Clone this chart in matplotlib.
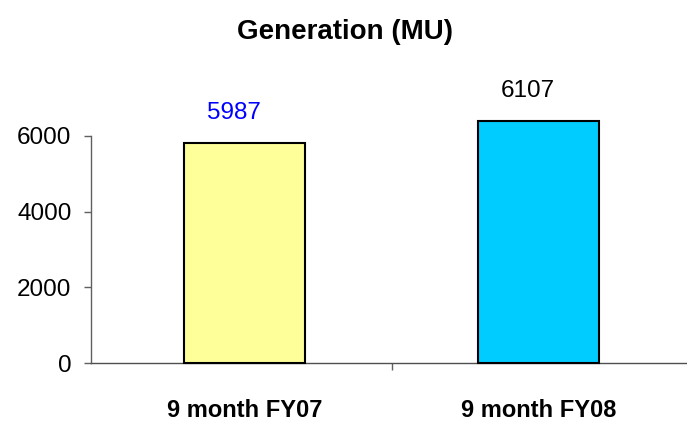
import matplotlib
matplotlib.use("Agg")
import matplotlib.pyplot as plt

plt.rcParams['font.family'] = ['Liberation Sans', 'DejaVu Sans']

categories = ["9 month FY07", "9 month FY08"]
values = [5800, 6380]
value_labels = ["5987", "6107"]
label_colors = ["#0000FF", "#000000"]
bar_colors = ["#FFFF99", "#00CCFF"]
yticks = [0, 2000, 4000, 6000]
title = "Generation (MU)"

fig = plt.figure(figsize=(6.87, 4.21), dpi=100)
ax = fig.add_axes([0.1325, 0.137, 0.8675, 0.5406])

x = list(range(len(categories)))
bars = ax.bar(x, values, width=0.41, color=bar_colors, edgecolor="black",
              linewidth=1.5, zorder=3, clip_on=False)

for xi, v, lab, c in zip(x, values, value_labels, label_colors):
    ax.annotate(lab, (xi, v), xytext=(-7.5, 21.5), textcoords="offset points",
                ha="center", va="center", fontsize=17.5, color=c, annotation_clip=False)

ax.set_xlim(-0.522, 1.505)
ax.set_ylim(0, 6000)
ax.set_yticks(yticks)
ax.set_yticklabels([str(t) for t in yticks], fontsize=17.5)
ax.tick_params(axis="y", direction="out", length=5, width=1, color="#606060", pad=9)

ax.set_xticks(x)
ax.set_xticklabels(categories, fontsize=17, fontweight="bold")
ax.tick_params(axis="x", which="major", length=0, pad=26)
ax.set_xticks([0.5], minor=True)
ax.tick_params(axis="x", which="minor", direction="out", length=5, width=1, color="#606060")

for s in ["top", "right"]:
    ax.spines[s].set_visible(False)
ax.spines["left"].set_color("#606060")
ax.spines["bottom"].set_color("#505050")
ax.spines["left"].set_linewidth(1)
ax.spines["bottom"].set_linewidth(1)

fig.text(0.502, 1 - 32 / 421, title, ha="center", va="center", fontsize=20, fontweight="bold")

fig.savefig("out.png", dpi=100)
